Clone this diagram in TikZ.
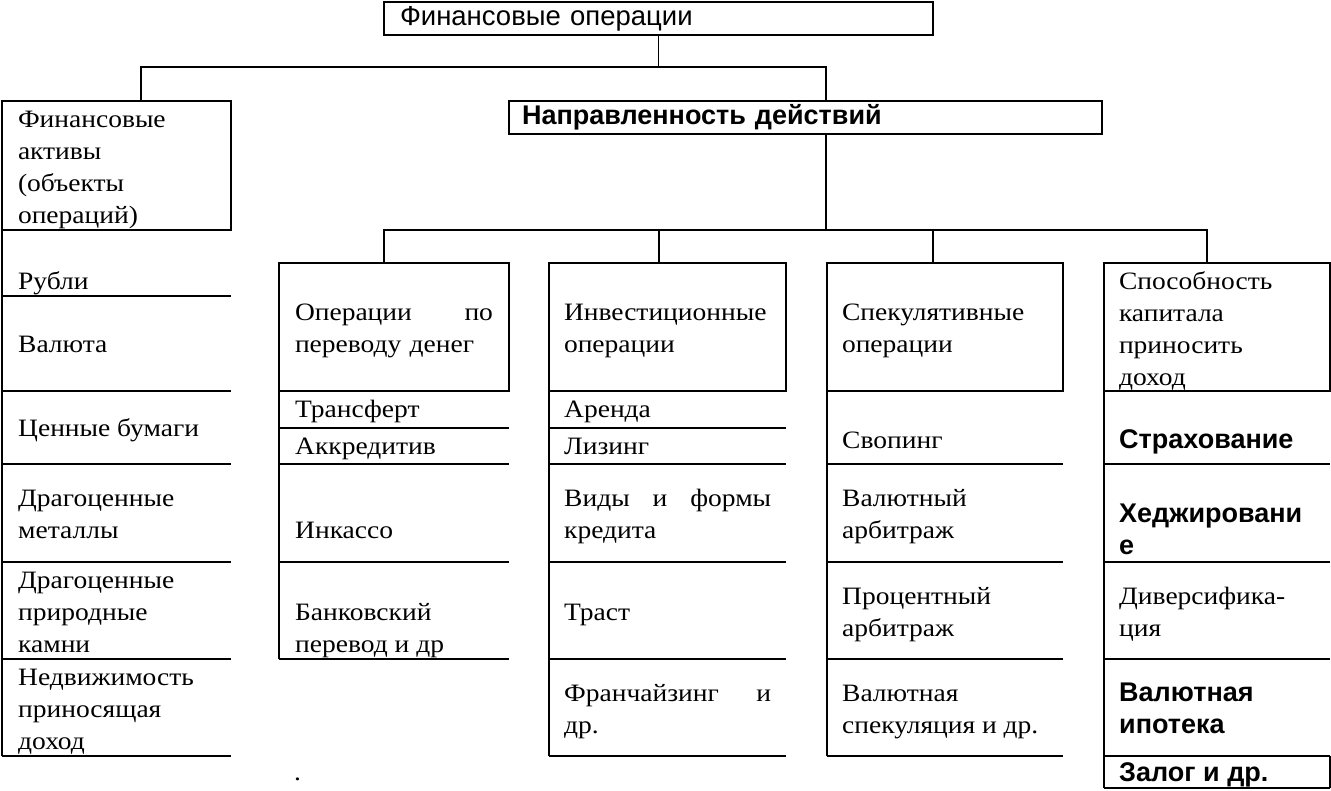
\documentclass[tikz,border=0pt]{standalone}
\usepackage{fontspec}
\setmainfont{Liberation Serif}[FakeStretch=1.1]
\newfontfamily\arialfont{Liberation Sans}
\usetikzlibrary{positioning, calc}

\newcommand{\cellfont}{\fontsize{25}{32}\selectfont}
\newcommand{\plainsans}{\arialfont\fontsize{27.5}{32}\selectfont}
\newcommand{\boldsans}{\arialfont\bfseries\fontsize{27}{32}\selectfont}
\newcommand{\topstrut}{\rule{0pt}{25pt}}

\tikzset{
	frame/.style={draw, line width=1.8pt, outer sep=0pt, anchor=north west, align=left, inner ysep=0pt, font=\cellfont},
	cell/.style={anchor=base west, inner sep=0pt, align=left, font=\cellfont},
	boldcell/.style={cell, font=\boldsans},
	rule/.style={line width=1.8pt}
}

\begin{document}
\begin{tikzpicture}[x=1pt, y=-1pt]
	\useasboundingbox (0,0) rectangle (1331,791);
	
	%// header boxes
	\node (top) [frame, minimum width=549, minimum height=33, inner xsep=16pt, text width=517pt, font=\plainsans] at (384,2) {Финансовые операции};
	\node (act) [frame, minimum width=229, minimum height=129, inner xsep=16pt, text width=197pt] at (2,101) {\topstrut Финансовые\\активы\\(объекты\\операций)};
	\node (dir) [frame, minimum width=593, minimum height=33, inner xsep=13pt, text width=567pt, font=\boldsans] at (509,101) {Направленность действий};
	
	\node (c1) [frame, minimum width=230, minimum height=128, inner xsep=16pt, text width=198pt] at (279,263) {\topstrut Операции\hfill по\\переводу денег};
	\node (c2) [frame, minimum width=237, minimum height=128, inner xsep=15pt, text width=207pt] at (549,263) {\topstrut Инвестиционные\\операции};
	\node (c3) [frame, minimum width=236, minimum height=128, inner xsep=15pt, text width=206pt] at (827,263) {\topstrut Спекулятивные\\операции};
	\node (c4) [frame, minimum width=226, minimum height=128, inner xsep=15pt, text width=196pt] at (1104,263) {\topstrut Способность\\капитала\\приносить\\доход};
	
	%// connectors
	\draw [rule] (top.south) -- ++(0,32) coordinate (busA);
	\draw [rule] ([xshift=139pt]act.north west) |- (busA) -| ([xshift=317pt]dir.north west);
	
	\draw [rule] ([xshift=317pt]dir.south west) -- ++(0,96) coordinate (busB);
	\coordinate (t1) at ([xshift=105pt]c1.north west);
	\coordinate (t2) at ([xshift=110pt]c2.north west);
	\coordinate (t3) at ([xshift=106pt]c3.north west);
	\coordinate (t4) at ([xshift=103pt]c4.north west);
	\draw [rule] (t1) |- (busB) -| (t4);
	\draw [rule] (t2) -- (t2 |- busB);
	\draw [rule] (t3) -- (t3 |- busB);
	
	%// cell rules
	\draw [rule] (act.south west) -- (2,756);
	\foreach \y in {296,391,464,562,659,756}
		\draw [rule] (2,\y) -- (231,\y);
	
	\draw [rule] (c1.south west) -- (279,659);
	\foreach \y in {428,464,562,659}
		\draw [rule] (279,\y) -- (509,\y);
	
	\draw [rule] (c2.south west) -- (549,756);
	\foreach \y in {428,464,562,659,756}
		\draw [rule] (549,\y) -- (786,\y);
	
	\draw [rule] (c3.south west) -- (827,756);
	\foreach \y in {464,562,659,756}
		\draw [rule] (827,\y) -- (1063,\y);
	
	\draw [rule] (c4.south west) -- (1104,788);
	\foreach \y in {464,562,659,756,788}
		\draw [rule] (1104,\y) -- (1330,\y);
	\draw [rule] (1330,756) -- (1330,788);
	
	%// objects
	\node (rub) [cell] at (18,290) {Рубли};
	\node (val) [cell] at (18,353) {Валюта};
	\node (sec) [cell] at (18,436) {Ценные бумаги};
	\node (met) [cell] at (18,538) {Драгоценные\\металлы};
	\node (gem) [cell] at (18,652) {Драгоценные\\природные\\камни};
	\node (est) [cell] at (18,749) {Недвижимость\\приносящая\\доход};
	\node (dot) [cell] at (294,780) {.};
	
	%// transfers
	\node (trf) [cell] at (295,418) {Трансферт};
	\node (akk) [cell] at (295,454) {Аккредитив};
	\node (ink) [cell] at (295,538) {Инкассо};
	\node (bnk) [cell] at (295,652) {Банковский\\перевод и др};
	
	%// investment
	\node (ren) [cell] at (564,418) {Аренда};
	\node (liz) [cell] at (564,454) {Лизинг};
	\node (kre) [cell] at (564,538) {\makebox[207pt][s]{Виды и формы}\\кредита};
	\node (tra) [cell] at (564,620) {Траст};
	\node (fra) [cell] at (564,733) {\makebox[207pt][s]{Франчайзинг и}\\др.};
	
	%// speculative
	\node (svo) [cell] at (842,449) {Свопинг};
	\node (varb) [cell] at (842,538) {Валютный\\арбитраж};
	\node (parb) [cell] at (842,636) {Процентный\\арбитраж};
	\node (vspe) [cell] at (842,733) {Валютная\\спекуляция и др.};
	
	%// income
	\node (str) [boldcell] at (1119,449) {Страхование};
	\node (hed) [boldcell] at (1119,554) {Хеджировани\\е};
	\node (div) [cell] at (1119,636) {Диверсифика-\\ция};
	\node (ipo) [boldcell] at (1119,733) {Валютная\\ипотека};
	\node (zal) [boldcell] at (1119,781) {Залог и др.};
\end{tikzpicture}
\end{document}
